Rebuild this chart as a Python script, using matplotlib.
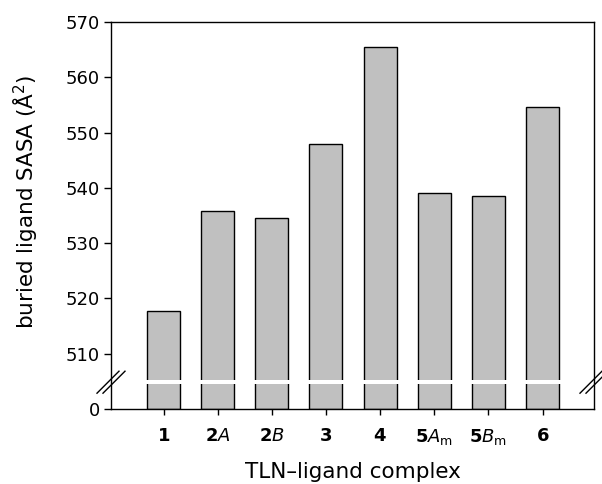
import numpy as np
import matplotlib
matplotlib.use("Agg")
import matplotlib.pyplot as plt
from matplotlib.lines import Line2D

plt.rcParams['font.family'] = ['DejaVu Sans']
plt.rcParams['mathtext.fontset'] = 'dejavusans'

# complexes and buried ligand surface area
complexes = [r'$\mathbf{1}$', r'$\mathbf{2}\mathit{A}$', r'$\mathbf{2}\mathit{B}$',
             r'$\mathbf{3}$', r'$\mathbf{4}$', r'$\mathbf{5}\mathit{A}_\mathrm{m}$',
             r'$\mathbf{5}\mathit{B}_\mathrm{m}$', r'$\mathbf{6}$']
sasa = [517.7, 535.8, 534.6, 547.9, 565.5, 539.1, 538.5, 554.6]
yticks = [0, 510, 520, 530, 540, 550, 560, 570]

# broken axis: 0..BREAK squeezed into a short segment below the break
BREAK = 504.5
LOW = 500.0


def fwd(v):
    v = np.asarray(v, dtype=float)
    return np.where(v >= BREAK, v, LOW + v * (BREAK - LOW) / BREAK)


def inv(u):
    u = np.asarray(u, dtype=float)
    return np.where(u >= BREAK, u, (u - LOW) * BREAK / (BREAK - LOW))


fig = plt.figure(figsize=(6.02, 4.84), dpi=100)
ax = fig.add_axes([111 / 602, 1 - 409 / 484, 483 / 602, 387 / 484])
ax.set_yscale('function', functions=(fwd, inv))

x = np.arange(len(sasa))
ax.bar(x, sasa, width=0.61, color='#c0c0c0', edgecolor='black', linewidth=1.0, zorder=2)

ax.set_ylim(0, 570)
ax.set_xlim(-0.97, 7.95)
ax.set_yticks(yticks)
ax.set_yticklabels([str(t) for t in yticks])
ax.yaxis.set_minor_locator(matplotlib.ticker.NullLocator())
ax.set_xticks(x)
ax.set_xticklabels(complexes)

ax.tick_params(axis='y', direction='out', length=5, width=1, labelsize=13, pad=3)
ax.tick_params(axis='x', direction='out', length=4, width=1, labelsize=13, pad=9)
for s in ax.spines.values():
    s.set_linewidth(1.0)
    s.set_zorder(3)

# white gap through the bars at the break
ax.axhspan(BREAK, BREAK + 0.7, color='white', zorder=2.5, linewidth=0)

# break marks on both vertical spines
yb = (fwd(BREAK + 0.35) - LOW) / (570 - LOW)
w_px, h_px = 483.0, 387.0
for xs in (0.0, 1.0):
    for off in (-3.0, 3.0):
        cx = xs + off / w_px
        ax.add_line(Line2D([cx - 11 / w_px, cx + 11 / w_px],
                           [yb - 11 / h_px, yb + 11 / h_px],
                           transform=ax.transAxes, color='black', lw=1.0,
                           clip_on=False, zorder=4))

# y label centred on the upper (510-570) segment
ax.set_ylabel('buried ligand SASA (Å$^2$)', fontsize=15.5)
ax.yaxis.set_label_coords(-0.146, (1 + yb) / 2)
ax.set_xlabel('TLN–ligand complex', fontsize=15.5, labelpad=11)

fig.savefig('out.png', dpi=100)
